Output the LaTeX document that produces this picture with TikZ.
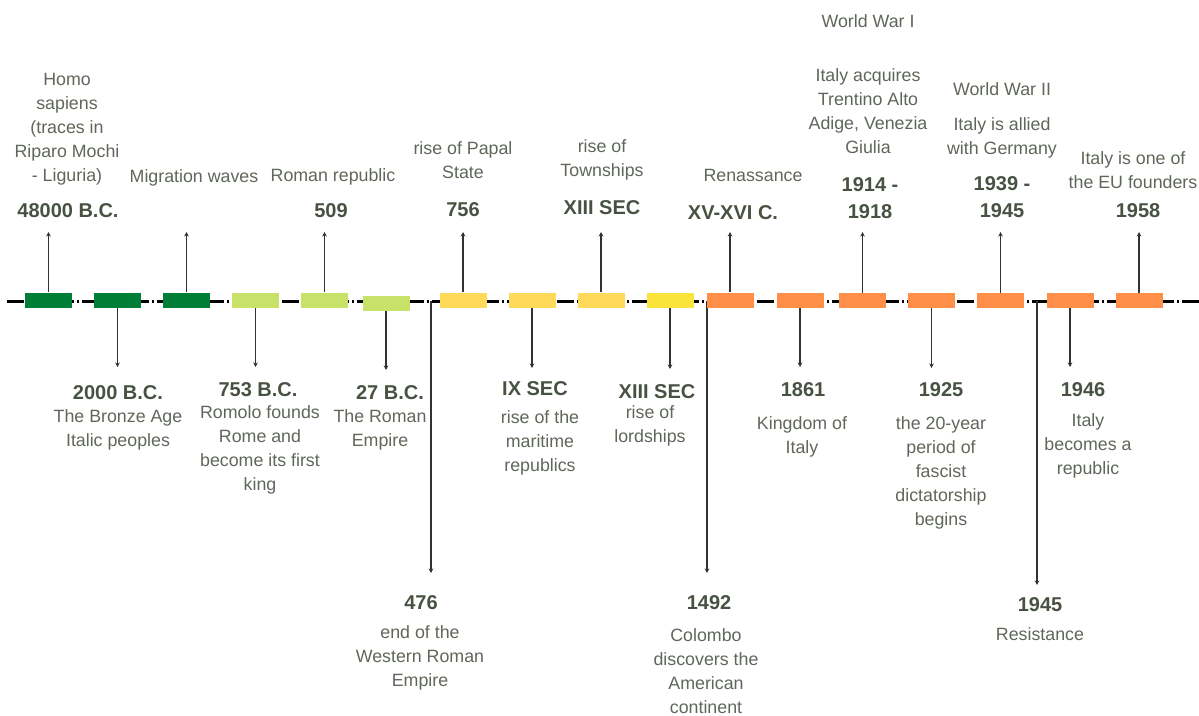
\documentclass[tikz,border=0pt]{standalone}
\usepackage{fontspec}
\setmainfont{Liberation Sans}
\usetikzlibrary{arrows.meta}
\definecolor{dgreen}{RGB}{0,125,55}
\definecolor{lgreen}{RGB}{200,225,105}
\definecolor{yorange}{RGB}{255,217,90}
\definecolor{yyellow}{RGB}{250,228,60}
\definecolor{orng}{RGB}{255,142,72}
\definecolor{datecol}{RGB}{72,82,66}
\definecolor{desccol}{RGB}{95,102,90}
\definecolor{conncol}{RGB}{50,50,50}
\newcommand\descfnt{\fontsize{17.8}{24}\selectfont}
\newcommand\datefnt{\bfseries\fontsize{20}{27}\selectfont}
\tikzset{
  evbox/.style={minimum width=47pt, minimum height=15pt, inner sep=0pt, draw=none},
  desc/.style={font=\descfnt, text=desccol, align=center, inner sep=0pt},
  datelbl/.style={font=\datefnt, text=datecol, align=center, inner sep=0pt},
  conn/.style={draw=conncol, line width=1.3pt, -{Stealth[length=4.5pt,width=4.5pt]}},
  timeline/.style={draw=black, line width=3pt, dash pattern=on 17pt off 3pt on 2pt off 3pt}
}
\begin{document}
\begin{tikzpicture}[x=1pt,y=-1pt]
\useasboundingbox (0,0) rectangle (1199,715);
% timeline
\coordinate (tl0) at (7,301);
\coordinate (tl1) at (1199,301);
\draw[timeline] (tl0) -- (tl1);
% long connectors
\coordinate (l1s) at (431,301); \coordinate (l1e) at (431,573);
\coordinate (l2s) at (707,301); \coordinate (l2e) at (707,573);
\coordinate (l3s) at (1037,301); \coordinate (l3e) at (1037,585);
\draw[conn] (l1s) -- (l1e);
\draw[conn] (l2s) -- (l2e);
\draw[conn] (l3s) -- (l3e);
% boxes
\foreach \i/\x/\y/\c in {1/48.5/300/dgreen,2/117.5/300/dgreen,3/186.5/300/dgreen,
  4/255.5/300/lgreen,5/324.5/300/lgreen,6/386/303/lgreen,
  7/463/300/yorange,8/532/300.5/yorange,9/601/300/yorange,10/670/300/yyellow,
  11/730/300/orng,12/800/300/orng,13/862.5/300.5/orng,14/931.5/300.5/orng,
  15/1000.5/300.5/orng,16/1070/300.5/orng,17/1139/300.5/orng}{
  \node[evbox, fill=\c] (b\i) at (\x,\y) {};
}
% up connectors
\foreach \i/\x in {1/48.5,3/186.5,5/324.5,7/463,9/601,11/730,13/862.5,15/1000.5,17/1139}{
  \coordinate (u\i) at (\x,232);
  \draw[conn] (b\i.north) -- (u\i);
}
% down connectors
\foreach \i/\x/\y in {2/117.5/367,4/255.5/367,6/386/370,8/532/368,10/670/369,12/800/367,14/931.5/368,16/1070/367}{
  \coordinate (dn\i) at (\x,\y);
  \draw[conn] (b\i.south) -- (dn\i);
}
% top labels
\node[desc] (t1) at (67,129) {Homo\\sapiens\\(traces in\\Riparo Mochi\\- Liguria)};
\node[datelbl] (d1) at (68,211) {48000 B.C.};
\node[desc] (t3) at (194,178) {Migration waves};
\node[desc] (t5) at (333,177) {Roman republic};
\node[datelbl] (d5) at (331,211) {509};
\node[desc] (t7) at (463,160) {rise of Papal\\State};
\node[datelbl] (d7) at (463,210) {756};
\node[desc] (t9) at (602,160) {rise of\\Townships};
\node[datelbl] (d9) at (602,208) {XIII SEC};
\node[desc] (t11) at (753,175) {Renassance};
\node[datelbl] (d11) at (733,213) {XV-XVI C.};
\node[desc] (t13a) at (868,21) {World War I};
\node[desc] (t13) at (868,111) {Italy acquires\\Trentino Alto\\Adige, Venezia\\Giulia};
\node[datelbl] (d13) at (870,198) {1914 -\\1918};
\node[desc] (t15a) at (1002,89) {World War II};
\node[desc] (t15) at (1002,138) {Italy is allied\\with Germany};
\node[datelbl] (d15) at (1002,197.5) {1939 -\\1945};
\node[desc] (t17) at (1133,170) {Italy is one of\\the EU founders};
\node[datelbl] (d17) at (1138,211) {1958};
% bottom labels
\node[datelbl] (d2) at (118,393) {2000 B.C.};
\node[desc] (t2) at (118,430) {The Bronze Age\\Italic peoples};
\node[datelbl] (d4) at (258,390) {753 B.C.};
\node[desc] (t4) at (260,450) {Romolo founds\\Rome and\\become its first\\king};
\node[datelbl] (d6) at (390,393) {27 B.C.};
\node[desc] (t6) at (380,430) {The Roman\\Empire};
\node[datelbl] (d8) at (535,389) {IX SEC};
\node[desc] (t8) at (540,443) {rise of the\\maritime\\republics};
\node[datelbl] (d10) at (657,392) {XIII SEC};
\node[desc] (t10) at (650,426) {rise of\\lordships};
\node[datelbl] (d12) at (803,390) {1861};
\node[desc] (t12) at (802,437) {Kingdom of\\Italy};
\node[datelbl] (d14) at (941,390) {1925};
\node[desc] (t14) at (941,473) {the 20-year\\period of\\fascist\\dictatorship\\begins};
\node[datelbl] (d16) at (1083,390) {1946};
\node[desc] (t16) at (1088,446) {Italy\\becomes a\\republic};
\node[datelbl] (dL1) at (421,603) {476};
\node[desc] (tL1) at (420,658) {end of the\\Western Roman\\Empire};
\node[datelbl] (dL2) at (709,603) {1492};
\node[desc] (tL2) at (706,671) {Colombo\\discovers the\\American\\continent};
\node[datelbl] (dL3) at (1040,605) {1945};
\node[desc] (tL3) at (1040,634) {Resistance};
\end{tikzpicture}
\end{document}
